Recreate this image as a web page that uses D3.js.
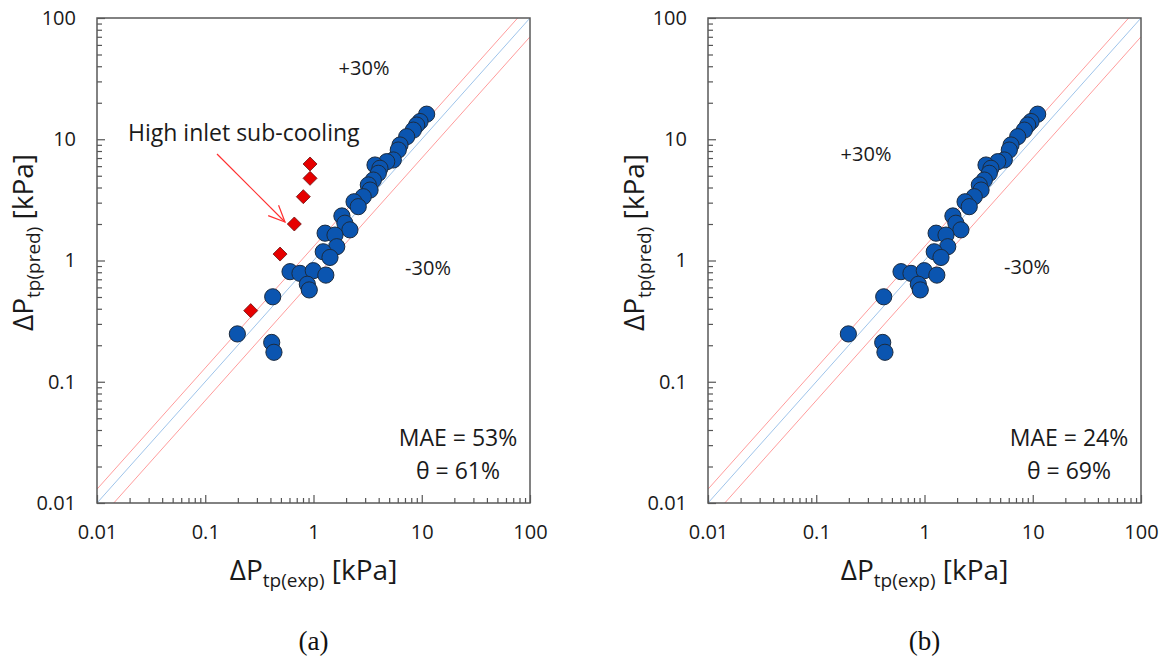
<!DOCTYPE html>
<html>
<head>
<meta charset="utf-8">
<script src="https://cdn.jsdelivr.net/npm/d3@7"></script>
<style>
body { margin: 0; background: #fff; }
svg { display: block; font-family: 'Open Sans', sans-serif; }
</style>
</head>
<body>
<script>
// measured vs predicted two-phase pressure drop [kPa]
var expBlue = [11.1, 9.64, 8.98, 8.36, 7.26, 6.30, 6.07, 5.46, 4.75, 3.70, 4.11, 3.97, 3.57, 3.21, 3.33, 2.88,
	2.37, 2.59, 1.83, 1.95, 2.17, 1.28, 1.58, 1.64, 1.23, 1.42, 0.607, 0.750, 0.995, 1.30, 0.877, 0.914,
	0.420, 0.198, 0.411, 0.431];
var predBlue = [16.1, 14.0, 13.1, 11.9, 10.5, 8.97, 8.15, 6.75, 6.53, 6.13, 5.76, 5.24, 4.61, 4.20, 3.81, 3.36,
	3.05, 2.78, 2.33, 2.03, 1.79, 1.68, 1.62, 1.30, 1.18, 1.06, 0.809, 0.783, 0.824, 0.758, 0.637, 0.572,
	0.502, 0.248, 0.211, 0.175];

// high inlet sub-cooling runs (panel a only)
var expRed = [0.263, 0.491, 0.665, 0.805, 0.929, 0.929];
var predRed = [0.386, 1.13, 2.00, 3.36, 4.76, 6.25];

var majorTicks = [0.01, 0.1, 1, 10, 100];
var tickLabels = ['0.01', '0.1', '1', '10', '100'];
var bandFactors = [0.7, 1, 1.3];
var panelNames = ['(a)', '(b)'];
var maeText = ['MAE = 53%', 'MAE = 24%'];
var thetaText = ['θ = 61%', 'θ = 69%'];

var minorTicks = [];
[0.01, 0.1, 1, 10].forEach(function(d) {
	for (var m = 2; m < 10; m++) minorTicks.push(m * d);
});

var W = 433, H = 485;
var x = d3.scaleLog().domain([0.01, 100]).range([0, W]);
var y = d3.scaleLog().domain([0.01, 100]).range([H, 0]);

var svg = d3.select('body').append('svg')
	.attr('width', 1168)
	.attr('height', 667);

svg.append('defs').append('clipPath')
	.attr('id', 'plotClip')
	.append('rect')
	.attr('width', W)
	.attr('height', H);

var panels = [
	{ left: 97, top: 18, red: true, plus: [267, 57], minus: [331, 257] },
	{ left: 708, top: 18, red: false, plus: [158, 143], minus: [319, 256] }
];

panels.forEach(function(p, i) {
	var g = svg.append('g')
		.attr('transform', 'translate(' + p.left + ',' + p.top + ')');

	// 1:1 line and the +/-30% band
	g.append('g')
		.attr('clip-path', 'url(#plotClip)')
		.selectAll('line')
		.data(bandFactors)
		.enter().append('line')
		.attr('x1', x(0.01))
		.attr('x2', x(100))
		.attr('y1', function(f) { return y(0.01 * f); })
		.attr('y2', function(f) { return y(100 * f); })
		.attr('stroke', function(f) { return f === 1 ? '#9fc4ea' : '#ff9c9c'; })
		.attr('stroke-width', 1);

	// axes with inward ticks
	var xMinor = d3.axisBottom(x).tickValues(minorTicks).tickSize(-5).tickFormat('');
	var xMajor = d3.axisBottom(x).tickValues(majorTicks).tickSize(-8).tickPadding(22)
		.tickFormat(function(d, k) { return tickLabels[k]; });
	var yMinor = d3.axisLeft(y).tickValues(minorTicks).tickSize(-5).tickFormat('');
	var yMajor = d3.axisLeft(y).tickValues(majorTicks).tickSize(-8).tickPadding(21)
		.tickFormat(function(d, k) { return tickLabels[k]; });

	[xMinor, xMajor].forEach(function(ax) {
		g.append('g').attr('class', 'axis').attr('transform', 'translate(0,' + H + ')').call(ax);
	});
	[yMinor, yMajor].forEach(function(ax) {
		g.append('g').attr('class', 'axis').call(ax);
	});
	g.selectAll('.axis .domain').remove();
	g.selectAll('.axis line').attr('stroke', '#555').attr('stroke-width', 1.2);
	g.selectAll('.axis text')
		.attr('fill', '#1a1a1a')
		.style('font-size', '20px')
		.style('font-family', "'Open Sans', sans-serif");

	g.append('rect')
		.attr('width', W)
		.attr('height', H)
		.attr('fill', 'none')
		.attr('stroke', '#595959')
		.attr('stroke-width', 1.5);

	if (p.red) {
		g.selectAll('path.red')
			.data(expRed.map(function(d, k) { return [d, predRed[k]]; }))
			.enter().append('path')
			.attr('class', 'red')
			.attr('d', d3.symbol().type(d3.symbolDiamond2).size(125))
			.attr('transform', function(d) { return 'translate(' + x(d[0]) + ',' + y(d[1]) + ')'; })
			.attr('fill', '#e60000')
			.attr('stroke', '#6b1010')
			.attr('stroke-width', 0.8);

		// annotation arrow
		var a0 = [120, 136], a1 = [188, 204];
		var ang = Math.atan2(a1[1] - a0[1], a1[0] - a0[0]);
		var head = [ang + Math.PI - 0.42, ang + Math.PI + 0.42].map(function(t) {
			return [a1[0] + 18 * Math.cos(t), a1[1] + 18 * Math.sin(t)];
		});
		g.append('line')
			.attr('x1', a0[0]).attr('y1', a0[1])
			.attr('x2', a1[0]).attr('y2', a1[1])
			.attr('stroke', '#ff3030')
			.attr('stroke-width', 1.2);
		g.append('path')
			.attr('d', d3.line()([head[0], a1, head[1]]))
			.attr('fill', 'none')
			.attr('stroke', '#ff3030')
			.attr('stroke-width', 1.2);
		g.append('text')
			.attr('x', 31)
			.attr('y', 123)
			.style('font-size', '23px')
			.attr('fill', '#1a1a1a')
			.text('High inlet sub-cooling');
	}

	g.selectAll('circle')
		.data(expBlue.map(function(d, k) { return [d, predBlue[k]]; }))
		.enter().append('circle')
		.attr('cx', function(d) { return x(d[0]); })
		.attr('cy', function(d) { return y(d[1]); })
		.attr('r', 8.1)
		.attr('fill', '#0b55b0')
		.attr('stroke', '#1c2b3e')
		.attr('stroke-width', 1);

	g.append('text')
		.attr('x', p.plus[0]).attr('y', p.plus[1])
		.attr('text-anchor', 'middle')
		.style('font-size', '20px')
		.attr('fill', '#1a1a1a')
		.text('+30%');
	g.append('text')
		.attr('x', p.minus[0]).attr('y', p.minus[1])
		.attr('text-anchor', 'middle')
		.style('font-size', '20px')
		.attr('fill', '#1a1a1a')
		.text('-30%');

	g.append('text')
		.attr('x', 361).attr('y', 428)
		.attr('text-anchor', 'middle')
		.style('font-size', '23px')
		.attr('fill', '#1a1a1a')
		.text(maeText[i]);
	g.append('text')
		.attr('x', 361).attr('y', 461)
		.attr('text-anchor', 'middle')
		.style('font-size', '23px')
		.attr('fill', '#1a1a1a')
		.text(thetaText[i]);

	// axis titles with subscripts
	var xt = g.append('text')
		.attr('x', W / 2)
		.attr('y', H + 77)
		.attr('text-anchor', 'middle')
		.style('font-size', '28px')
		.attr('fill', '#1a1a1a');
	xt.append('tspan').text('ΔP');
	xt.append('tspan').attr('dy', 7).style('font-size', '19px').text('tp(exp)');
	xt.append('tspan').attr('dy', -7).text(' [kPa]');

	var yt = g.append('text')
		.attr('transform', 'translate(-64,' + (H / 2 - 18) + ')rotate(-90)')
		.attr('text-anchor', 'middle')
		.style('font-size', '28px')
		.attr('fill', '#1a1a1a');
	yt.append('tspan').text('ΔP');
	yt.append('tspan').attr('dy', 7).style('font-size', '19px').text('tp(pred)');
	yt.append('tspan').attr('dy', -7).text(' [kPa]');

	g.append('text')
		.attr('x', W / 2)
		.attr('y', 632)
		.attr('text-anchor', 'middle')
		.style('font-family', "'Liberation Serif', serif")
		.style('font-size', '27px')
		.attr('fill', '#111')
		.text(panelNames[i]);
});
</script>
</body>
</html>
